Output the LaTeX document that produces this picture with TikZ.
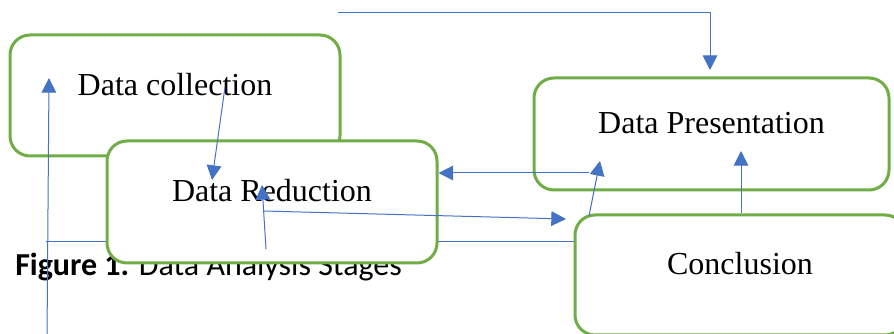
\documentclass[tikz,border=0pt]{standalone}
\usepackage{fontspec}
\setmainfont{Liberation Serif}
\newfontfamily\captionfont{Carlito}
\usetikzlibrary{arrows.meta}
\definecolor{stageblue}{HTML}{4472C4}
\definecolor{stagegreen}{HTML}{70AD47}
\tikzset{
  stagebox/.style={draw=stagegreen, line width=2.25pt, rounded corners=15pt, fill=white,
    minimum width=247.5pt, minimum height=90.75pt, text height=0pt, text depth=0pt,
    font=\fontsize{24}{29}\selectfont},
  flow/.style={draw=stageblue, line width=0.75pt, -{Triangle[width=11pt,length=11pt]}},
  plain/.style={draw=stageblue, line width=0.75pt}
}
\begin{document}
\begin{tikzpicture}[x=0.75pt,y=-0.75pt]
    \clip (0,0) rectangle (894,334);
    \node[anchor=base west, inner sep=0pt, font=\captionfont\fontsize{24}{29}\selectfont] (caption) at (15,276) {\textbf{Figure 1.} Data Analysis Stages};
    \coordinate (rule-w) at (46,242);
    \coordinate (rule-e) at (575,242);
    \draw[plain] (rule-w) -- (rule-e);
    \node[stagebox] (collect) at (175,95.5) {Data collection};
    \coordinate (left-s) at (47,340);
    \coordinate (left-n) at (49,78);
    \draw[flow] (left-s) -- (left-n);
    \node[stagebox, minimum height=91.5pt] (reduce) at (272,202) {Data Reduction};
    \node[stagebox, minimum width=266.25pt, minimum height=84pt] (present) at (711.5,134) {Data Presentation};
    \node[stagebox, minimum height=90pt] (conclude) at (740,275) {Conclusion};
    % connectors drawn last, over the boxes
    \coordinate (top-s) at (338,13);
    \coordinate (top-n) at (710,70);
    \draw[flow] (top-s) -| (top-n);
    \coordinate (collect-out) at (225,87);
    \coordinate (reduce-in) at (212,180);
    \draw[flow] (collect-out) -- (reduce-in);
    \coordinate (reduce-low) at (266,249);
    \coordinate (reduce-up) at (262,185);
    \draw[flow] (reduce-low) -- (reduce-up);
    \coordinate (mid-w) at (263,211);
    \coordinate (mid-e) at (566,219);
    \draw[flow] (mid-w) -- (mid-e);
    \coordinate (back-e) at (589,173);
    \draw[flow] (back-e) -- (reduce.east |- back-e);
    \coordinate (rise-s) at (589,216);
    \coordinate (rise-n) at (600,161);
    \draw[flow] (rise-s) -- (rise-n);
    \coordinate (pres-in) at (741,151);
    \draw[flow] (conclude.north -| pres-in) -- (pres-in);
\end{tikzpicture}
\end{document}
